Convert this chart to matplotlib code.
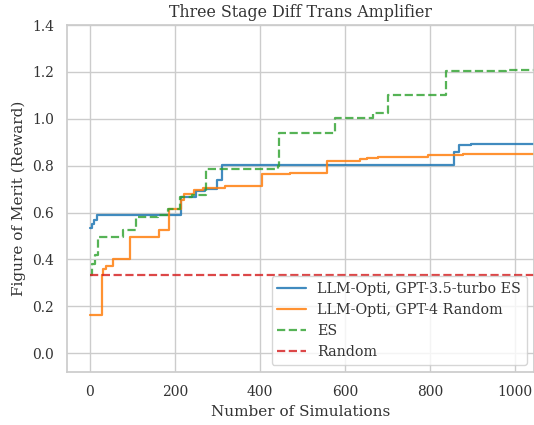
import numpy as np
import matplotlib
matplotlib.use("Agg")
import matplotlib.pyplot as plt
import seaborn as sns

# step points (x = simulations, y = best reward so far)
gpt35_x = [0, 4, 9, 16, 215, 250, 270, 300, 310, 857, 868, 897, 1050]
gpt35_y = [0.534, 0.55, 0.57, 0.588, 0.665, 0.69, 0.70, 0.74, 0.802, 0.86, 0.889, 0.893, 0.893]

gpt4_x = [0, 28, 30, 38, 55, 95, 162, 186, 215, 222, 245, 265, 318, 405, 470, 558,
          635, 653, 677, 796, 877, 1050]
gpt4_y = [0.163, 0.335, 0.36, 0.37, 0.40, 0.495, 0.525, 0.615, 0.655, 0.68, 0.695, 0.705,
          0.712, 0.765, 0.77, 0.822, 0.827, 0.832, 0.836, 0.846, 0.85, 0.85]

es_x = [0, 5, 12, 19, 78, 109, 160, 184, 211, 240, 274, 442, 445, 576, 666, 702, 837, 980, 1050]
es_y = [0.335, 0.38, 0.42, 0.495, 0.527, 0.58, 0.59, 0.615, 0.668, 0.675, 0.786, 0.797,
        0.939, 1.003, 1.024, 1.10, 1.202, 1.209, 1.209]

random_x = [0, 1050]
random_y = [0.333, 0.333]

sns.set_theme(style="whitegrid")
plt.rcParams['font.family'] = ['DejaVu Serif']
plt.rcParams['text.color'] = '#333333'
plt.rcParams['axes.labelcolor'] = '#333333'
plt.rcParams['xtick.color'] = '#333333'
plt.rcParams['ytick.color'] = '#333333'

fig = plt.figure(figsize=(5.34, 4.25), dpi=100)
ax = fig.add_axes([0.1255, 0.125, 0.8745, 0.816])

ax.step(gpt35_x, gpt35_y, where='post', color='#1f77b4', alpha=0.85, lw=1.6,
        label='LLM-Opti, GPT-3.5-turbo ES')
ax.step(gpt4_x, gpt4_y, where='post', color='#ff7f0e', alpha=0.85, lw=1.6,
        label='LLM-Opti, GPT-4 Random')
ax.step(es_x, es_y, where='post', color='#2ca02c', alpha=0.8, lw=1.6, ls='--', label='ES')
ax.plot(random_x, random_y, color='#d62728', alpha=0.85, lw=1.6, ls='--', label='Random')

ax.set_xlim(-54, 1045)
ax.set_ylim(-0.08, 1.4)
ax.set_xticks([0, 200, 400, 600, 800, 1000])
ax.set_yticks(np.arange(0, 1.41, 0.2))
ax.tick_params(labelsize=10)

ax.set_title('Three Stage Diff Trans Amplifier', fontsize=11.4)
ax.set_xlabel('Number of Simulations', fontsize=11)
ax.set_ylabel('Figure of Merit (Reward)', fontsize=11)
ax.legend(loc='lower right', fontsize=10.3)

fig.savefig('out.png', dpi=100)
